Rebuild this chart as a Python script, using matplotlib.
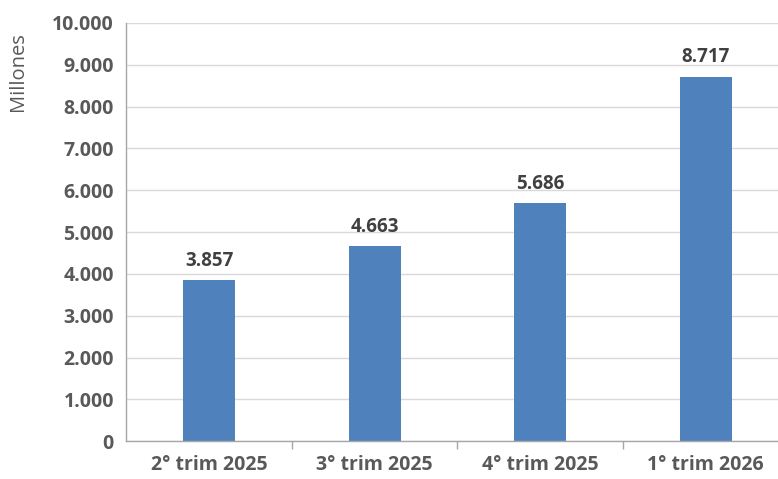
import numpy as np
import matplotlib.pyplot as plt
from matplotlib.ticker import FuncFormatter

# trimestres y valores (millones)
categories = ['2° trim 2025', '3° trim 2025', '4° trim 2025', '1° trim 2026']
values = [3857, 4663, 5686, 8717]
value_labels = ['3.857', '4.663', '5.686', '8.717']

plt.rcParams['font.family'] = ['Open Sans', 'DejaVu Sans']

fig = plt.figure(figsize=(7.78, 4.79), dpi=100)
# el área de trazado sobrepasa un poco el borde derecho, como en el original
ax = fig.add_axes([0.1625, 0.079, 0.851, 0.873])

x = np.arange(len(categories))
bars = ax.bar(x, values, width=0.315, color='#4F81BD', zorder=3)

for xi, v, lab in zip(x, values, value_labels):
    ax.text(xi, v + 220, lab, ha='center', va='bottom', fontsize=13.5,
            fontweight='bold', color='#404040')

ax.set_xlim(-0.5, len(categories) - 0.5)
ax.set_ylim(0, 10000)
ax.set_yticks(np.arange(0, 10001, 1000))
ax.yaxis.set_major_formatter(FuncFormatter(lambda v, p: f'{int(v):,}'.replace(',', '.')))

ax.set_xticks(x)
ax.set_xticklabels(categories)
ax.set_xticks(np.arange(0.5, len(categories) - 0.5, 1), minor=True)
ax.tick_params(axis='x', which='major', length=0, pad=10, labelsize=14, labelcolor='#595959')
ax.tick_params(axis='x', which='minor', length=6, color='#A6A6A6', width=1)
ax.tick_params(axis='y', length=0, pad=9, labelsize=14, labelcolor='#595959')
for lbl in ax.get_xticklabels() + ax.get_yticklabels():
    lbl.set_fontweight('bold')

ax.grid(axis='y', color='#D9D9D9', linewidth=1, zorder=0)
for s in ['top', 'right']:
    ax.spines[s].set_visible(False)
for s in ['left', 'bottom']:
    ax.spines[s].set_color('#A6A6A6')
    ax.spines[s].set_linewidth(1)
    ax.spines[s].set_zorder(4)

ax.set_ylabel('Millones', fontsize=14.5, color='#595959')
ax.yaxis.set_label_coords(-0.149, 0.885)

fig.savefig('out.png', dpi=100)
